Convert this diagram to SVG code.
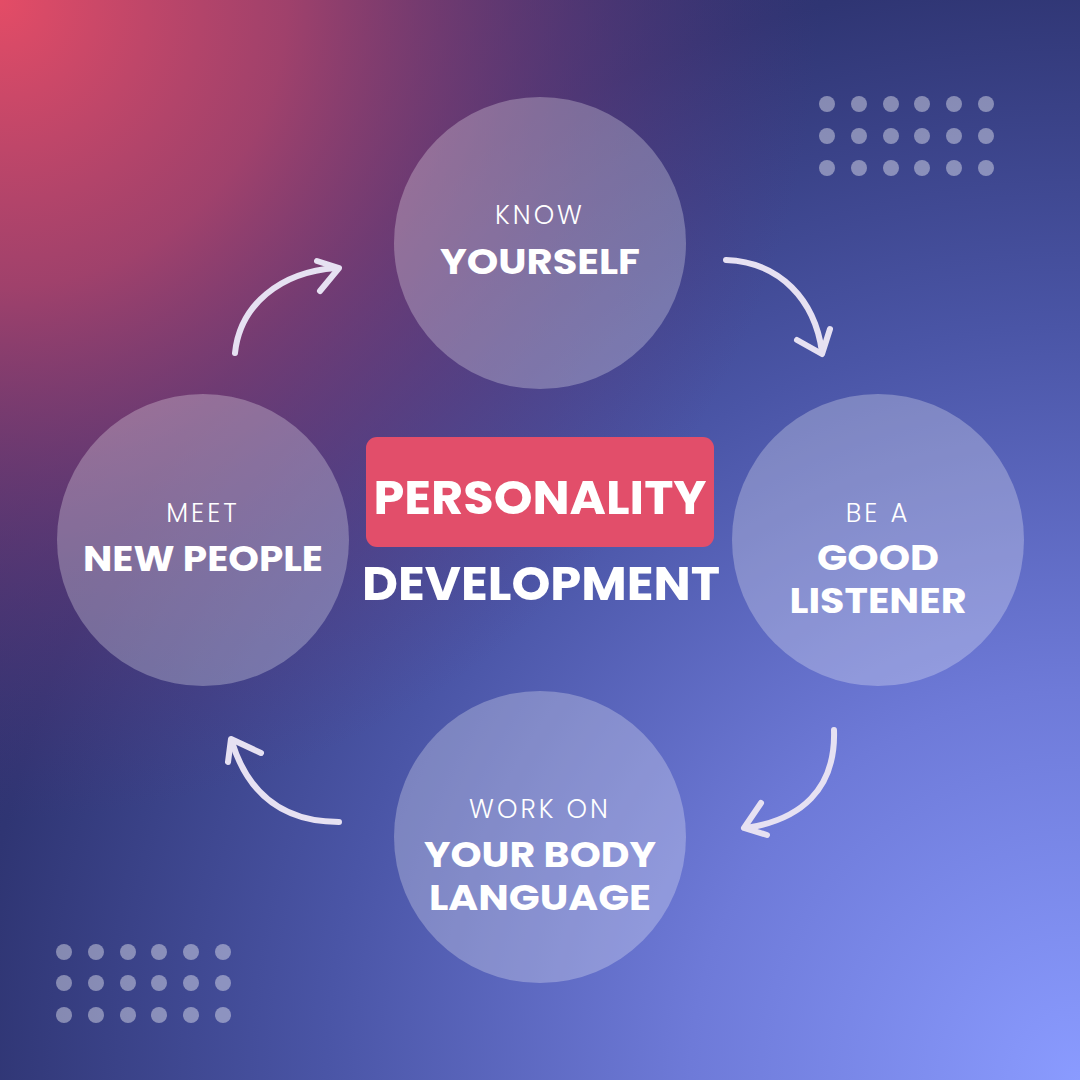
<svg xmlns="http://www.w3.org/2000/svg" width="1080" height="1080" viewBox="0 0 1080 1080">
<defs>
<radialGradient id="bgBlue" cx="1080" cy="1080" r="1300" gradientUnits="userSpaceOnUse">
<stop offset="0" stop-color="#8a9bff"/>
<stop offset="0.3" stop-color="#6e7ad8"/>
<stop offset="0.58" stop-color="#4a55a6"/>
<stop offset="0.85" stop-color="#2f3573"/>
<stop offset="1" stop-color="#2c3068"/>
</radialGradient>
<radialGradient id="bgRed" cx="0" cy="0" r="820" gradientUnits="userSpaceOnUse">
<stop offset="0" stop-color="#e44c66" stop-opacity="1"/>
<stop offset="0.35" stop-color="#b4446c" stop-opacity="0.85"/>
<stop offset="0.7" stop-color="#7a3a78" stop-opacity="0.45"/>
<stop offset="1" stop-color="#5a3580" stop-opacity="0"/>
</radialGradient>
<style>
.node{fill:#ffffff;fill-opacity:0.27}
.dot{fill:#ffffff;fill-opacity:0.4}
.lt{font-family:"Poppins","Lato","Inter","Liberation Sans",sans-serif;font-weight:300;font-size:26px;fill:#ffffff;letter-spacing:3px;text-anchor:middle}
.bd{font-family:"Poppins","Lato","Inter","Liberation Sans",sans-serif;font-weight:700;font-size:35px;fill:#ffffff;text-anchor:middle}
.ttl{font-family:"Poppins","Lato","Inter","Liberation Sans",sans-serif;font-weight:700;font-size:48px;fill:#ffffff;text-anchor:middle}
.arr{fill:none;stroke:#e6e1f2;stroke-width:6;stroke-linecap:round;stroke-linejoin:round}
</style>
</defs>
<rect width="1080" height="1080" fill="url(#bgBlue)"/>
<rect width="1080" height="1080" fill="url(#bgRed)"/>

<g id="dots-top-right">
<circle class="dot" cx="827" cy="104" r="8"/><circle class="dot" cx="859" cy="104" r="8"/><circle class="dot" cx="891" cy="104" r="8"/><circle class="dot" cx="922" cy="104" r="8"/><circle class="dot" cx="954" cy="104" r="8"/><circle class="dot" cx="986" cy="104" r="8"/>
<circle class="dot" cx="827" cy="136" r="8"/><circle class="dot" cx="859" cy="136" r="8"/><circle class="dot" cx="891" cy="136" r="8"/><circle class="dot" cx="922" cy="136" r="8"/><circle class="dot" cx="954" cy="136" r="8"/><circle class="dot" cx="986" cy="136" r="8"/>
<circle class="dot" cx="827" cy="168" r="8"/><circle class="dot" cx="859" cy="168" r="8"/><circle class="dot" cx="891" cy="168" r="8"/><circle class="dot" cx="922" cy="168" r="8"/><circle class="dot" cx="954" cy="168" r="8"/><circle class="dot" cx="986" cy="168" r="8"/>
</g>
<g id="dots-bottom-left">
<circle class="dot" cx="64" cy="952" r="8"/><circle class="dot" cx="96" cy="952" r="8"/><circle class="dot" cx="128" cy="952" r="8"/><circle class="dot" cx="159" cy="952" r="8"/><circle class="dot" cx="191" cy="952" r="8"/><circle class="dot" cx="223" cy="952" r="8"/>
<circle class="dot" cx="64" cy="983" r="8"/><circle class="dot" cx="96" cy="983" r="8"/><circle class="dot" cx="128" cy="983" r="8"/><circle class="dot" cx="159" cy="983" r="8"/><circle class="dot" cx="191" cy="983" r="8"/><circle class="dot" cx="223" cy="983" r="8"/>
<circle class="dot" cx="64" cy="1015" r="8"/><circle class="dot" cx="96" cy="1015" r="8"/><circle class="dot" cx="128" cy="1015" r="8"/><circle class="dot" cx="159" cy="1015" r="8"/><circle class="dot" cx="191" cy="1015" r="8"/><circle class="dot" cx="223" cy="1015" r="8"/>
</g>

<g id="connectors">
<path class="arr" d="M235,353 C240,305 280,272 336,268"/>
<path class="arr" d="M317,261 L339,268 L320,291"/>
<path class="arr" d="M726,260 C780,262 815,300 822,352"/>
<path class="arr" d="M797,340 L822,354 L830,329"/>
<path class="arr" d="M834,730 C836,790 800,820 746,828"/>
<path class="arr" d="M761,803 L744,828 L767,835"/>
<path class="arr" d="M339,822 C290,822 250,800 232,742"/>
<path class="arr" d="M228,762 L231,739 L261,753"/>
</g>

<g id="node-know-yourself">
<circle class="node" cx="540" cy="243" r="146"/>
<text class="lt" x="540" y="224">KNOW</text>
<text class="bd" x="540" y="274" textLength="200" lengthAdjust="spacingAndGlyphs">YOURSELF</text>
</g>
<g id="node-good-listener">
<circle class="node" cx="878" cy="540" r="146"/>
<text class="lt" x="878" y="522">BE A</text>
<text class="bd" x="878" y="570" textLength="122" lengthAdjust="spacingAndGlyphs">GOOD</text>
<text class="bd" x="878" y="613" textLength="177" lengthAdjust="spacingAndGlyphs">LISTENER</text>
</g>
<g id="node-body-language">
<circle class="node" cx="540" cy="837" r="146"/>
<text class="lt" x="540" y="818">WORK ON</text>
<text class="bd" x="540" y="867" textLength="232" lengthAdjust="spacingAndGlyphs">YOUR BODY</text>
<text class="bd" x="540" y="910" textLength="222" lengthAdjust="spacingAndGlyphs">LANGUAGE</text>
</g>
<g id="node-new-people">
<circle class="node" cx="203" cy="540" r="146"/>
<text class="lt" x="203" y="522">MEET</text>
<text class="bd" x="203" y="571" textLength="240" lengthAdjust="spacingAndGlyphs">NEW PEOPLE</text>
</g>

<g id="title">
<rect x="366" y="437" width="348" height="110" rx="11" fill="#e24e6a"/>
<text class="ttl" x="540" y="514" textLength="333" lengthAdjust="spacingAndGlyphs">PERSONALITY</text>
<text class="ttl" x="541" y="600" textLength="358" lengthAdjust="spacingAndGlyphs">DEVELOPMENT</text>
</g>
</svg>
